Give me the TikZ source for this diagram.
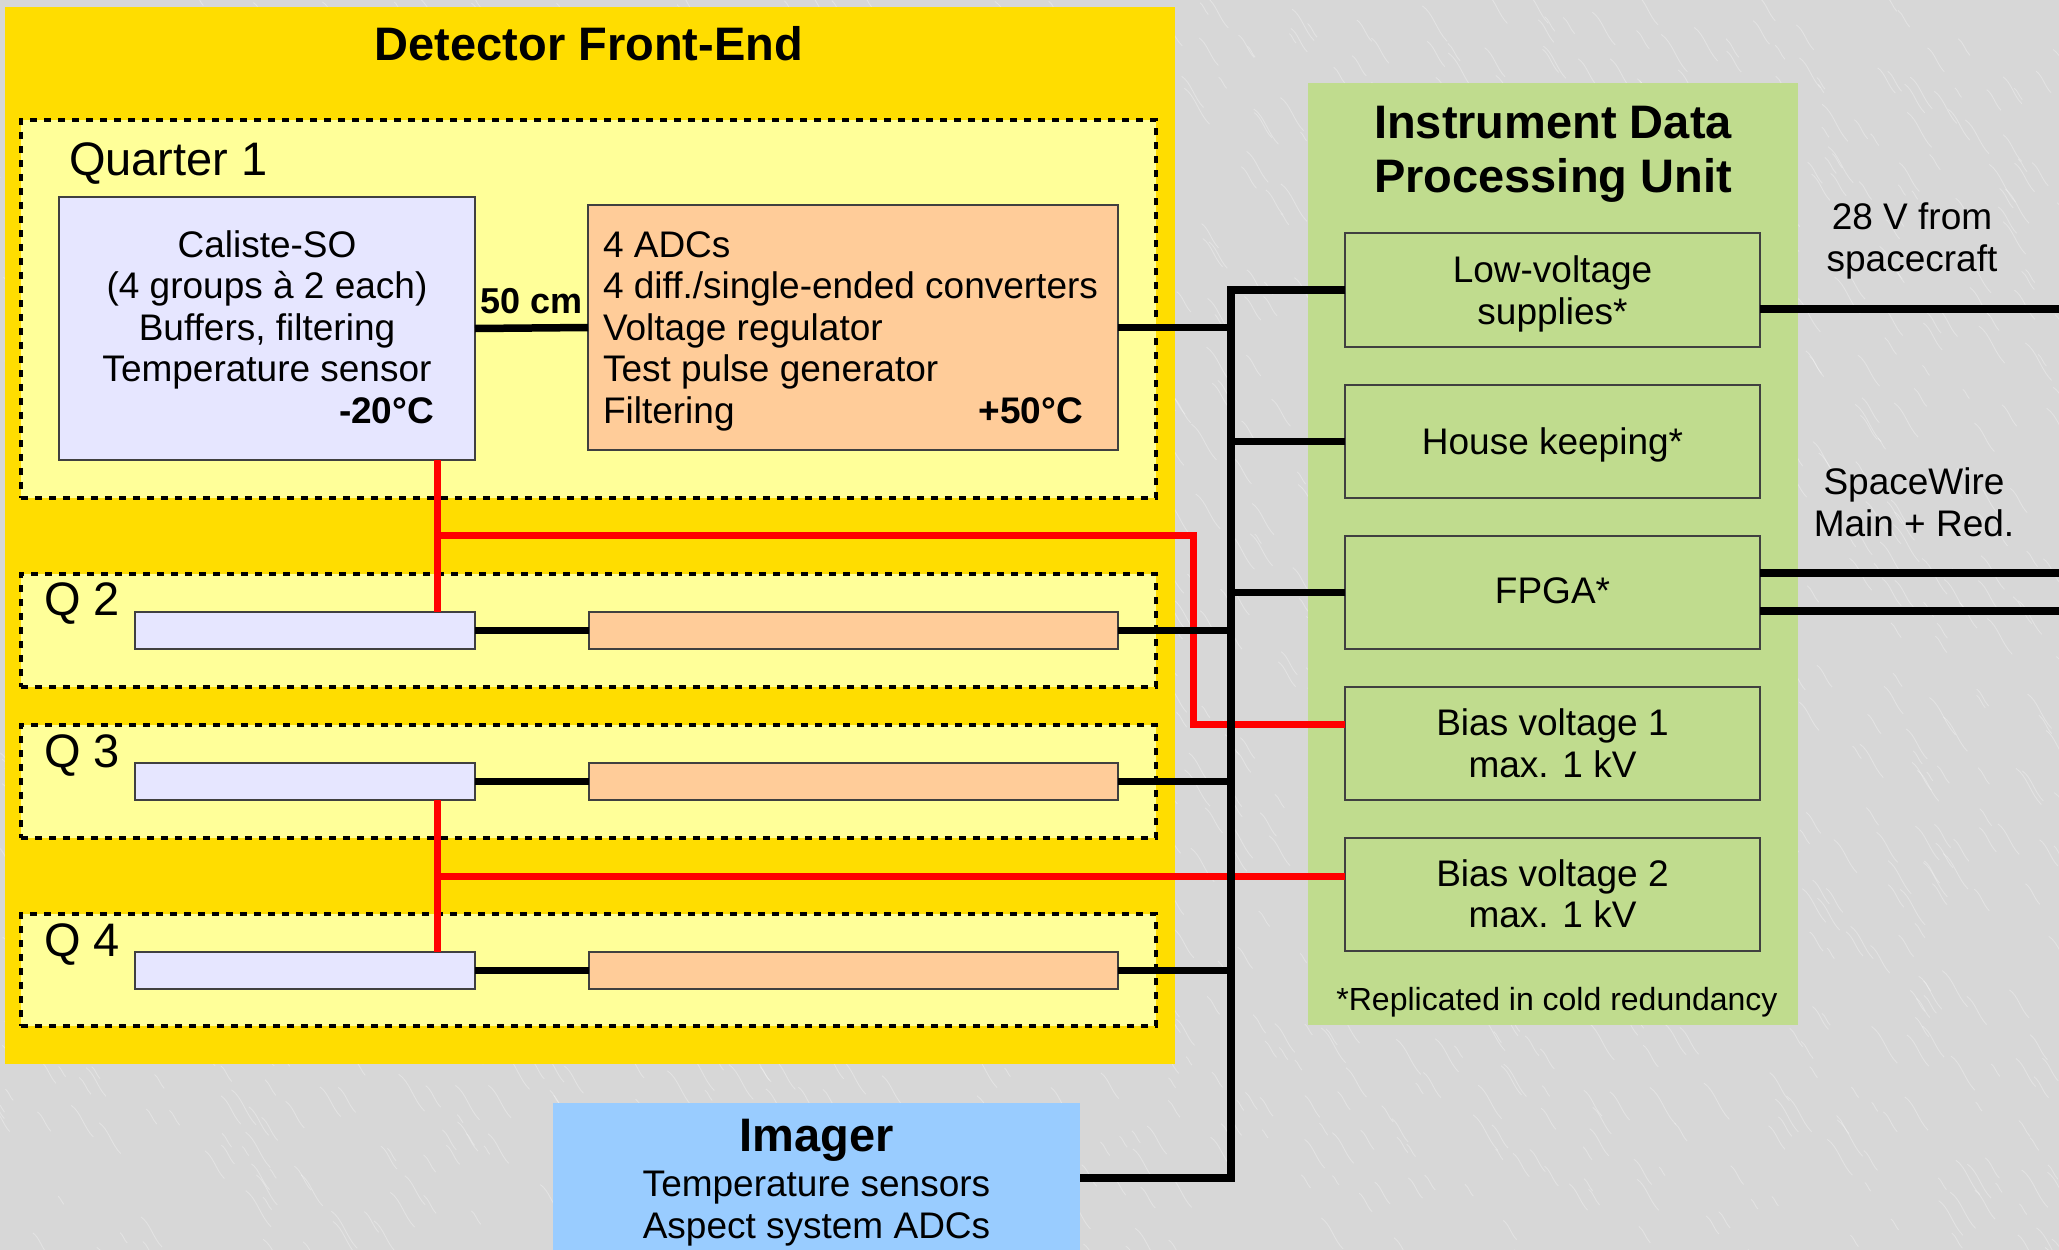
\documentclass[tikz,border=0pt]{standalone}
\usepackage{fontspec}
\setmainfont{Liberation Sans}
\usetikzlibrary{calc}
\definecolor{bgc}{RGB}{215,215,215}
\definecolor{gold}{RGB}{255,221,0}
\definecolor{lyel}{RGB}{255,255,153}
\definecolor{lav}{RGB}{230,230,255}
\definecolor{peach}{RGB}{255,204,153}
\definecolor{lgreen}{RGB}{192,220,142}
\definecolor{lblue}{RGB}{153,204,255}
\definecolor{wred}{RGB}{255,0,0}
\tikzset{
  area/.style={inner sep=0pt, outer sep=0pt, draw=none},
  qbox/.style={inner sep=0pt, outer sep=0pt, fill=lyel, draw=black, line width=3.5pt, dash pattern=on 7pt off 7pt},
  rbox/.style={inner sep=0pt, outer sep=0pt, draw=black!75, line width=1.6pt},
  txt/.style={inner sep=0pt, outer sep=0pt, font={\fontsize{37}{41.5}\selectfont}},
  big/.style={inner sep=0pt, outer sep=0pt, font={\fontsize{47}{53}\selectfont}},
  bigb/.style={inner sep=0pt, outer sep=0pt, font={\fontsize{47}{53}\selectfont\bfseries}},
  wire/.style={line width=7.5pt, draw=black},
  hv/.style={line width=7pt, draw=wred},
  streak/.style={draw=white, line width=0.9pt, opacity=0.3},
}
\begin{document}
\begin{tikzpicture}[x=1pt,y=-1pt]
\useasboundingbox (0,0) rectangle (2059,1250);
\fill[bgc] (0,0) rectangle (2059,1250);
% marble texture
\pgfmathsetseed{11}
\foreach \i in {1,...,1800}{
  \pgfmathsetmacro{\xa}{rnd*2080-10}
  \pgfmathsetmacro{\ya}{rnd*1270-10}
  \pgfmathsetmacro{\ln}{8+rnd*30}
  \pgfmathsetmacro{\xb}{\xa+0.3*\ln}
  \pgfmathsetmacro{\yb}{\ya+0.2*\ln}
  \pgfmathsetmacro{\xc}{\xa+0.4*\ln}
  \pgfmathsetmacro{\yc}{\ya+0.7*\ln}
  \pgfmathsetmacro{\xd}{\xa+0.7*\ln}
  \pgfmathsetmacro{\yd}{\ya+\ln}
  \draw[streak] (\xa,\ya) .. controls (\xb,\yb) and (\xc,\yc) .. (\xd,\yd);
}
% main areas
\node[area, fill=gold, minimum width=1170, minimum height=1057] (fe) at (590,535.5) {};
\node[area, fill=lgreen, minimum width=490, minimum height=942] (idpu) at (1553,554) {};
% quarter boxes
\node[qbox, minimum width=1135, minimum height=378] (q1) at (588.5,309) {};
\node[qbox, minimum width=1135, minimum height=113] (q2) at (588.5,630.5) {};
\node[qbox, minimum width=1135, minimum height=113] (q3) at (588.5,781.5) {};
\node[qbox, minimum width=1135, minimum height=112] (q4) at (588.5,970) {};
% detector boxes
\node[rbox, fill=lav, minimum width=416, minimum height=263] (cal1) at (267,328.5) {};
\node[rbox, fill=peach, minimum width=530, minimum height=245] (adc1) at (853,327.5) {};
\node[rbox, fill=lav, minimum width=340, minimum height=37] (cal2) at (305,630.5) {};
\node[rbox, fill=peach, minimum width=529, minimum height=37] (adc2) at (853.5,630.5) {};
\node[rbox, fill=lav, minimum width=340, minimum height=37] (cal3) at (305,781.5) {};
\node[rbox, fill=peach, minimum width=529, minimum height=37] (adc3) at (853.5,781.5) {};
\node[rbox, fill=lav, minimum width=340, minimum height=37] (cal4) at (305,970.5) {};
\node[rbox, fill=peach, minimum width=529, minimum height=37] (adc4) at (853.5,970.5) {};
% IDPU boxes
\node[rbox, fill=lgreen, minimum width=415, minimum height=114] (lv) at (1552.5,290) {};
\node[rbox, fill=lgreen, minimum width=415, minimum height=113] (hk) at (1552.5,441.5) {};
\node[rbox, fill=lgreen, minimum width=415, minimum height=113] (fpga) at (1552.5,592.5) {};
\node[rbox, fill=lgreen, minimum width=415, minimum height=113] (b1) at (1552.5,743.5) {};
\node[rbox, fill=lgreen, minimum width=415, minimum height=113] (b2) at (1552.5,894.5) {};
% imager
\node[area, fill=lblue, minimum width=527, minimum height=150] (imager) at (816.5,1178) {};
% coordinates
\coordinate (rx) at (437,0);
\coordinate (r1) at (437,535);
\coordinate (r2) at (1193,535);
\coordinate (r3) at (1193,724);
\coordinate (r4) at (437,876);
\coordinate (bt) at (1231,290);
\coordinate (bb) at (1231,1178);
\coordinate (e1) at (2059,309);
\coordinate (e2) at (2059,573);
\coordinate (e3) at (2059,611);
% red bias wires
\draw[hv] (cal1.south -| rx) -- (cal2.north -| rx);
\draw[hv] (r1) -- (r2) -- (r3) -- (b1.west |- r3);
\draw[hv] (cal3.south -| rx) -- (cal4.north -| rx);
\draw[hv] (r4) -- (b2.west |- r4);
% black wires
\draw[wire] (lv.west) -- (bt) -- (bb) -- (imager.east);
\draw[wire] (cal1.east) -- (adc1.west);
\draw[wire] (adc1.east) -- (adc1.east -| bt);
\draw[wire] (hk.west) -- (hk.west -| bt);
\draw[wire] (fpga.west) -- (fpga.west -| bt);
\draw[wire] (cal2.east) -- (adc2.west);
\draw[wire] (adc2.east) -- (adc2.east -| bt);
\draw[wire] (cal3.east) -- (adc3.west);
\draw[wire] (adc3.east) -- (adc3.east -| bt);
\draw[wire] (cal4.east) -- (adc4.west);
\draw[wire] (adc4.east) -- (adc4.east -| bt);
\draw[wire] (lv.east |- e1) -- (e1);
\draw[wire] (fpga.east |- e2) -- (e2);
\draw[wire] (fpga.east |- e3) -- (e3);
% texts
\node[bigb, anchor=base] (tfe) at (589,60) {Detector Front-End};
\node[big, anchor=base west] (tq1) at (69,175) {Quarter 1};
\node[big, anchor=base west] (tq2) at (44,615) {Q 2};
\node[big, anchor=base west] (tq3) at (44,767) {Q 3};
\node[big, anchor=base west] (tq4) at (44,956) {Q 4};
\node[txt, anchor=base] (c1) at (267,257) {Caliste-SO};
\node[txt, anchor=base] (c2) at (267,298.5) {(4 groups à 2 each)};
\node[txt, anchor=base] (c3) at (267,340) {Buffers, filtering};
\node[txt, anchor=base] (c4) at (267,381.5) {Temperature sensor};
\node[txt, anchor=base east, font={\fontsize{37}{41.5}\selectfont\bfseries}] (c5) at (434,423) {-20°C};
\node[txt, anchor=base west] (a1) at (603,257) {4 ADCs};
\node[txt, anchor=base west] (a2) at (603,298.5) {4 diff./single-ended converters};
\node[txt, anchor=base west] (a3) at (603,340) {Voltage regulator};
\node[txt, anchor=base west] (a4) at (603,381.5) {Test pulse generator};
\node[txt, anchor=base west] (a5) at (603,423) {Filtering};
\node[txt, anchor=base east, font={\fontsize{37}{41.5}\selectfont\bfseries}] (a6) at (1083,423) {+50°C};
\node[txt, anchor=base, font={\fontsize{36}{41.5}\selectfont\bfseries}] (tcm) at (532,313) {50 cm};
\node[bigb, anchor=base] (ti1) at (1553,138.5) {Instrument Data};
\node[bigb, anchor=base] (ti2) at (1553,192) {Processing Unit};
\node[txt, anchor=base] (tlv1) at (1552.5,282) {Low-voltage};
\node[txt, anchor=base] (tlv2) at (1552.5,324) {supplies*};
\node[txt, anchor=base] (thk) at (1552.5,454) {House keeping*};
\node[txt, anchor=base] (tfp) at (1552.5,603) {FPGA*};
\node[txt, anchor=base] (tb11) at (1552.5,735) {Bias voltage 1};
\node[txt, anchor=base] (tb12) at (1552.5,777) {max. 1 kV};
\node[txt, anchor=base] (tb21) at (1552.5,886.5) {Bias voltage 2};
\node[txt, anchor=base] (tb22) at (1552.5,927.5) {max. 1 kV};
\node[txt, anchor=base, font={\fontsize{32}{38}\selectfont}] (tfn) at (1557,1010) {*Replicated in cold redundancy};
\node[txt, anchor=base] (ts1) at (1912,229) {28 V from};
\node[txt, anchor=base] (ts2) at (1912,271) {spacecraft};
\node[txt, anchor=base] (tw1) at (1914,494) {SpaceWire};
\node[txt, anchor=base] (tw2) at (1914,536.5) {Main + Red.};
\node[bigb, anchor=base] (tim1) at (816.5,1151) {Imager};
\node[txt, anchor=base] (tim2) at (816.5,1196) {Temperature sensors};
\node[txt, anchor=base] (tim3) at (816.5,1238) {Aspect system ADCs};
\end{tikzpicture}
\end{document}
